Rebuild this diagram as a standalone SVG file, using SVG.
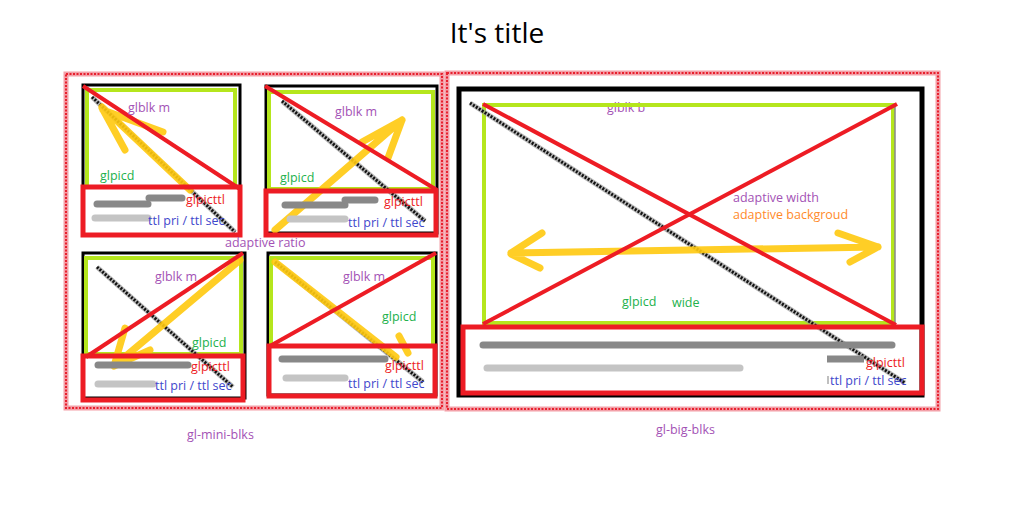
<svg xmlns="http://www.w3.org/2000/svg" width="1023" height="528" viewBox="0 0 1023 528">
<defs>
<style>
.t{font-family:"Open Sans","Noto Sans",sans-serif;font-size:12.5px}
.pu{fill:#a352b5}.gr{fill:#22b14c}.rd{fill:#ed1c24}.bl{fill:#3f48cc}.or{fill:#ff8a2a}
.cont{fill:none;stroke:#f3a0a8;stroke-width:5}
.cont2{fill:none;stroke:#e8202e;stroke-width:2;stroke-dasharray:2 1.5}
.blk{fill:none;stroke:#000;stroke-width:3}
.grn{fill:none;stroke:#b5e61d;stroke-width:4}
.ttl{fill:none;stroke:#ed1c24;stroke-width:5}
.x{stroke:#ed1c24;stroke-width:4;fill:none}
.dot1{stroke:#999;stroke-width:5;fill:none;opacity:.7}
.dot2{stroke:#111;stroke-width:3;fill:none;stroke-dasharray:2 1.5}
.ya{stroke:#ffc90e;stroke-width:7;fill:none;stroke-linecap:round;stroke-linejoin:round;opacity:.9}
.b1{stroke:#888;stroke-width:7;stroke-linecap:round;fill:none}
.b2{stroke:#c4c4c4;stroke-width:7;stroke-linecap:round;fill:none}
</style>
</defs>
<rect width="1023" height="528" fill="#fff"/>
<text x="497" y="43" text-anchor="middle" font-family="'Open Sans','Noto Sans',sans-serif" font-size="28" fill="#000">It's title</text>

<g id="gl-mini-blks">
<rect class="cont" x="66" y="74" width="376" height="334"/>
<rect class="cont2" x="66" y="74" width="376" height="334"/>
</g>
<g id="gl-big-blks">
<rect class="cont" x="447" y="73" width="491" height="336"/>
<rect class="cont2" x="447" y="73" width="491" height="336"/>
</g>

<g id="mini1">
<rect class="blk" x="83" y="85" width="157" height="150"/>
<rect class="grn" x="87" y="90" width="148" height="97"/>
<line class="dot1" x1="92" y1="97" x2="235" y2="232"/>
<line class="dot2" x1="92" y1="97" x2="235" y2="232"/>
<path class="ya" d="M190 190 L102 107 M102 108 L125 150 M103 110 L163 132"/>
<line class="b1" x1="97" y1="204" x2="148" y2="204"/><line class="b1" x1="149" y1="198" x2="182" y2="198"/>
<line class="b2" x1="95" y1="218" x2="148" y2="218"/>
<rect class="ttl" x="83" y="187" width="157" height="48"/>
<line class="x" x1="83" y1="86" x2="240" y2="189"/>
<text class="t pu" x="128" y="112">glblk m</text>
<text class="t gr" x="100" y="180">glpicd</text>
<text class="t rd" x="186" y="204">glpicttl</text>
<text class="t bl" x="148" y="225">ttl pri / ttl sec</text>
</g>

<g id="mini2">
<rect class="blk" x="266" y="86" width="171" height="147"/>
<rect class="grn" x="269" y="92" width="164" height="97"/>
<line class="dot1" x1="282" y1="101" x2="425" y2="221"/>
<line class="dot2" x1="282" y1="101" x2="425" y2="221"/>
<path class="ya" d="M275 230 L402 120 M402 120 L362 142 M402 120 L388 158"/>
<line class="b1" x1="285" y1="205" x2="345" y2="205"/><line class="b1" x1="345" y1="200" x2="375" y2="200"/>
<line class="b2" x1="290" y1="219" x2="345" y2="219"/>
<rect class="ttl" x="266" y="191" width="170" height="44"/>
<line class="x" x1="265" y1="86" x2="437" y2="190"/>
<text class="t pu" x="335" y="116">glblk m</text>
<text class="t gr" x="280" y="182">glpicd</text>
<text class="t rd" x="384" y="206">glpicttl</text>
<text class="t bl" x="348" y="227">ttl pri / ttl sec</text>
</g>

<text class="t pu" x="225" y="247">adaptive ratio</text>

<g id="mini3">
<rect class="blk" x="83" y="253" width="162" height="145"/>
<rect class="grn" x="86" y="258" width="155" height="96"/>
<line class="dot1" x1="97" y1="267" x2="233" y2="387"/>
<line class="dot2" x1="97" y1="267" x2="233" y2="387"/>
<path class="ya" d="M240 260 L114 366 M114 366 L125 328 M114 366 L150 350"/>
<line class="b1" x1="98" y1="365" x2="188" y2="365"/>
<line class="b2" x1="98" y1="384" x2="153" y2="384"/>
<rect class="ttl" x="83" y="356" width="160" height="44"/>
<line class="x" x1="86" y1="357" x2="243" y2="253"/>
<text class="t pu" x="155" y="281">glblk m</text>
<text class="t gr" x="192" y="347">glpicd</text>
<text class="t rd" x="191" y="371">glpicttl</text>
<text class="t bl" x="155" y="390">ttl pri / ttl sec</text>
</g>

<g id="mini4">
<rect class="blk" x="268" y="253" width="168" height="142"/>
<rect class="grn" x="271" y="258" width="162" height="88"/>
<line class="dot1" x1="275" y1="262" x2="423" y2="382"/>
<line class="dot2" x1="275" y1="262" x2="423" y2="382"/>
<path class="ya" d="M275 262 L396 357 M399 336 L408 353"/>
<line class="b1" x1="282" y1="359" x2="385" y2="359"/>
<line class="b2" x1="286" y1="378" x2="345" y2="378"/>
<rect class="ttl" x="269" y="346" width="166" height="50"/>
<line class="x" x1="270" y1="346" x2="436" y2="253"/>
<text class="t pu" x="343" y="281">glblk m</text>
<text class="t gr" x="382" y="321">glpicd</text>
<text class="t rd" x="385" y="370">glpicttl</text>
<text class="t bl" x="348" y="388">ttl pri / ttl sec</text>
</g>

<text class="t pu" x="187" y="439">gl-mini-blks</text>

<g id="big">
<rect x="459" y="89" width="463" height="306" fill="none" stroke="#000" stroke-width="5"/>
<text class="t pu" x="607" y="112">glblk b</text>
<rect class="grn" x="484" y="105" width="409" height="218"/>
<line x1="895" y1="106" x2="895" y2="324" stroke="#888" stroke-width="1.5"/>
<line class="dot1" x1="470" y1="103" x2="905" y2="383"/>
<line class="dot2" x1="470" y1="103" x2="905" y2="383"/>
<path class="ya" d="M511 253 L878 247 M511 253 L542 233 M511 254 L540 268 M878 247 L838 233 M878 247 L850 262"/>
<line class="b1" x1="483" y1="345" x2="892" y2="345"/>
<line class="b2" x1="487" y1="368" x2="740" y2="368"/>
<line x1="827" y1="359" x2="864" y2="359" stroke="#888" stroke-width="7"/>
<line x1="828" y1="376" x2="828" y2="384" stroke="#aaa" stroke-width="1.5"/>
<rect x="463" y="327" width="459" height="66" fill="none" stroke="#ed1c24" stroke-width="5"/>
<line class="x" x1="483" y1="104" x2="896" y2="325"/>
<line class="x" x1="483" y1="324" x2="897" y2="104"/>
<text class="t pu" x="733" y="202">adaptive width</text>
<text class="t or" x="733" y="219">adaptive backgroud</text>
<text class="t gr" x="622" y="306">glpicd</text>
<text class="t gr" x="672" y="307">wide</text>
<text class="t rd" x="866" y="367">glpicttl</text>
<text class="t bl" x="830" y="385">ttl pri / ttl sec</text>
</g>

<text class="t pu" x="656" y="434">gl-big-blks</text>
</svg>
